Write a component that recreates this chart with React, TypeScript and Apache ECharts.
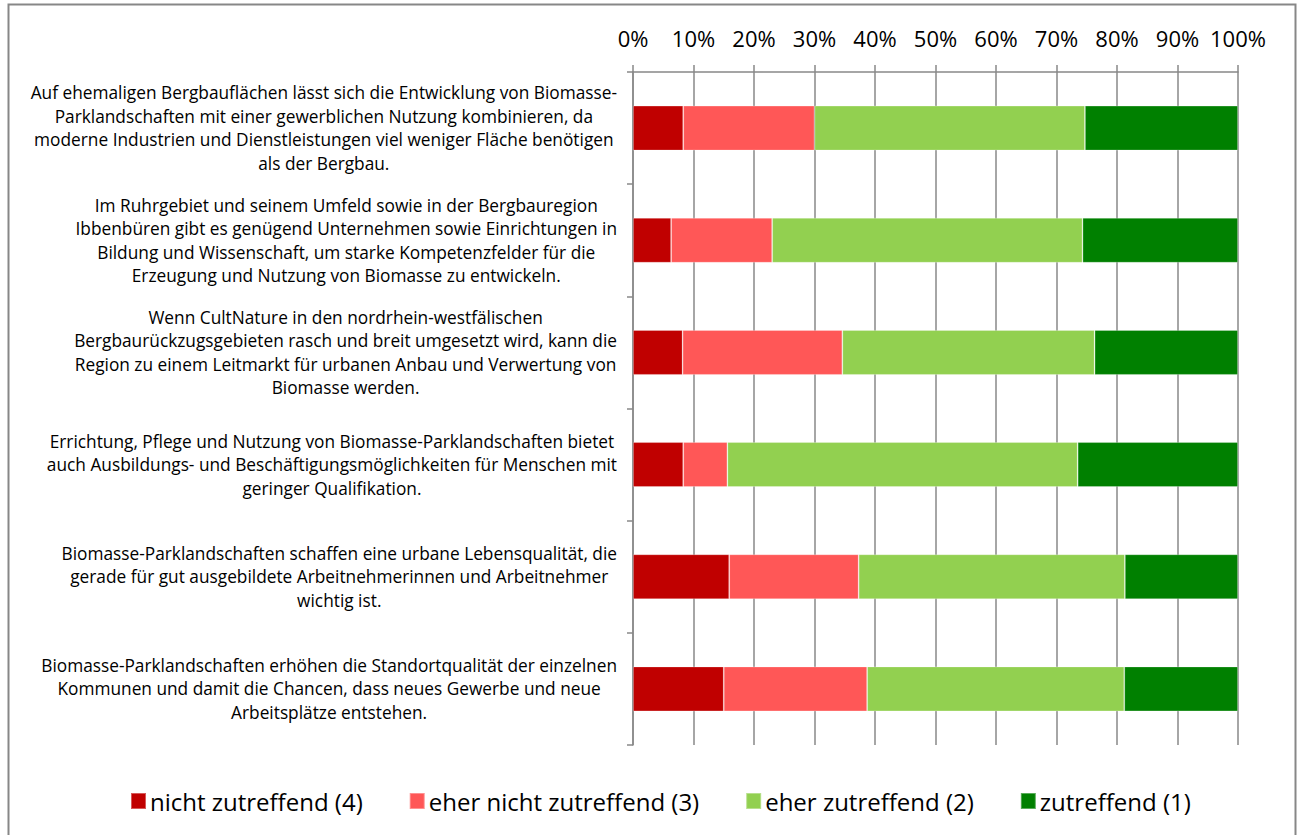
import React, { useEffect, useRef } from "react";
import * as echarts from "echarts";

const categories: string[][] = [
  [
    "Auf ehemaligen Bergbauflächen lässt sich die Entwicklung von Biomasse-",
    "Parklandschaften mit einer gewerblichen Nutzung kombinieren, da",
    "moderne Industrien und Dienstleistungen viel weniger Fläche benötigen",
    "als der Bergbau.",
  ],
  [
    "Im Ruhrgebiet und seinem Umfeld sowie in der Bergbauregion",
    "Ibbenbüren gibt es genügend Unternehmen sowie Einrichtungen in",
    "Bildung und Wissenschaft, um starke Kompetenzfelder für die",
    "Erzeugung und Nutzung von Biomasse zu entwickeln.",
  ],
  [
    "Wenn CultNature in den nordrhein-westfälischen",
    "Bergbaurückzugsgebieten rasch und breit umgesetzt wird, kann die",
    "Region zu einem Leitmarkt für urbanen Anbau und Verwertung von",
    "Biomasse werden.",
  ],
  [
    "Errichtung, Pflege und Nutzung von Biomasse-Parklandschaften bietet",
    "auch Ausbildungs- und Beschäftigungsmöglichkeiten für Menschen mit",
    "geringer Qualifikation.",
  ],
  [
    "Biomasse-Parklandschaften schaffen eine urbane Lebensqualität, die",
    "gerade für gut ausgebildete Arbeitnehmerinnen und Arbeitnehmer",
    "wichtig ist.",
  ],
  [
    "Biomasse-Parklandschaften erhöhen die Standortqualität der einzelnen",
    "Kommunen und damit die Chancen, dass neues Gewerbe und neue",
    "Arbeitsplätze entstehen.",
  ],
];

const seriesNames = [
  "nicht zutreffend (4)",
  "eher nicht zutreffend (3)",
  "eher zutreffend (2)",
  "zutreffend (1)",
];

const nichtZutreffend = [8.3, 6.3, 8.2, 8.3, 15.9, 15.0];
const eherNichtZutreffend = [21.7, 16.7, 26.4, 7.3, 21.4, 23.7];
const eherZutreffend = [44.7, 51.3, 41.7, 57.9, 44.0, 42.5];
const zutreffend = [25.3, 25.7, 23.7, 26.5, 18.7, 18.8];

const seriesColors = ["#C00000", "#FF5757", "#92D050", "#008000"];

const FONT = "Open Sans";
const LABEL_SIZE = 17.3;
const LABEL_LINE = 23.5;
const LABEL_MARGIN = 16;

function measure(lines: string[]): number {
  const c = document.createElement("canvas");
  const ctx = c.getContext("2d");
  if (!ctx) return 0;
  ctx.font = `${LABEL_SIZE}px "${FONT}"`;
  return Math.max(...lines.map((l) => ctx.measureText(l).width));
}

const GRID_LEFT = 633;

export default function App() {
  const ref = useRef<HTMLDivElement>(null);
  useEffect(() => {
    if (!ref.current) return;
    const chart = echarts.init(ref.current, undefined, { renderer: "svg" });
    const catKeys = categories.map((c) => c.join("\n"));
    const values = [nichtZutreffend, eherNichtZutreffend, eherZutreffend, zutreffend];
    const border = {
      id: "border",
      type: "rect",
      shape: { x: 8.5, y: 4.5, width: 1287, height: 860 },
      style: { fill: "none", stroke: "#878787", lineWidth: 2 },
      silent: true,
    };
    chart.setOption({
      animation: false,
      backgroundColor: "#ffffff",
      textStyle: { fontFamily: FONT },
      graphic: [border],
      legend: {
        bottom: 17,
        left: 125,
        itemWidth: 15,
        itemHeight: 16,
        itemGap: 46,
        icon: "rect",
        textStyle: { fontFamily: FONT, fontSize: 24, color: "#000", padding: [0, 0, 0, -1] },
        data: seriesNames,
      },
      grid: {
        left: GRID_LEFT,
        right: 59,
        top: 72,
        bottom: 90,
        containLabel: false,
        outerBoundsMode: "none",
      },
      xAxis: {
        type: "value",
        position: "top",
        min: 0,
        max: 100,
        interval: 10,
        axisLine: { show: true, lineStyle: { color: "#888888", width: 1.5 } },
        axisTick: { show: true, length: 7, lineStyle: { color: "#888888", width: 1.5 } },
        splitLine: { show: true, lineStyle: { color: "#888888", width: 1.5 } },
        axisLabel: {
          formatter: "{value}%",
          fontFamily: FONT,
          fontSize: 22,
          color: "#000",
          margin: 23,
        },
      },
      yAxis: {
        type: "category",
        inverse: true,
        data: catKeys,
        axisLine: { show: true, lineStyle: { color: "#888888", width: 1.5 } },
        axisTick: { show: true, length: 6, lineStyle: { color: "#888888", width: 1.5 } },
        axisLabel: { show: false },
      },
      series: seriesNames.map((name, i) => ({
        name,
        type: "bar",
        stack: "total",
        barCategoryGap: "60%",
        data: values[i],
        itemStyle: {
          color: seriesColors[i],
          borderColor: "rgba(255,255,255,0.35)",
          borderWidth: 0.8,
        },
      })),
    });
    const labelEls = categories.map((lines, i) => {
      const y = chart.convertToPixel({ yAxisIndex: 0 }, catKeys[i]) as number;
      const w = measure(lines);
      return {
        id: `cat${i}`,
        type: "text",
        x: GRID_LEFT - LABEL_MARGIN - w / 2,
        y,
        silent: true,
        style: {
          text: lines.join("\n"),
          align: "center",
          verticalAlign: "middle",
          fontFamily: FONT,
          fontSize: LABEL_SIZE,
          lineHeight: LABEL_LINE,
          fill: "#000",
        },
      };
    });
    chart.setOption({ graphic: [border, ...labelEls] });
    return () => chart.dispose();
  }, []);
  return (
    <div
      ref={ref}
      style={{ position: "absolute", left: 0, top: 0, width: 1297, height: 835 }}
    />
  );
}
